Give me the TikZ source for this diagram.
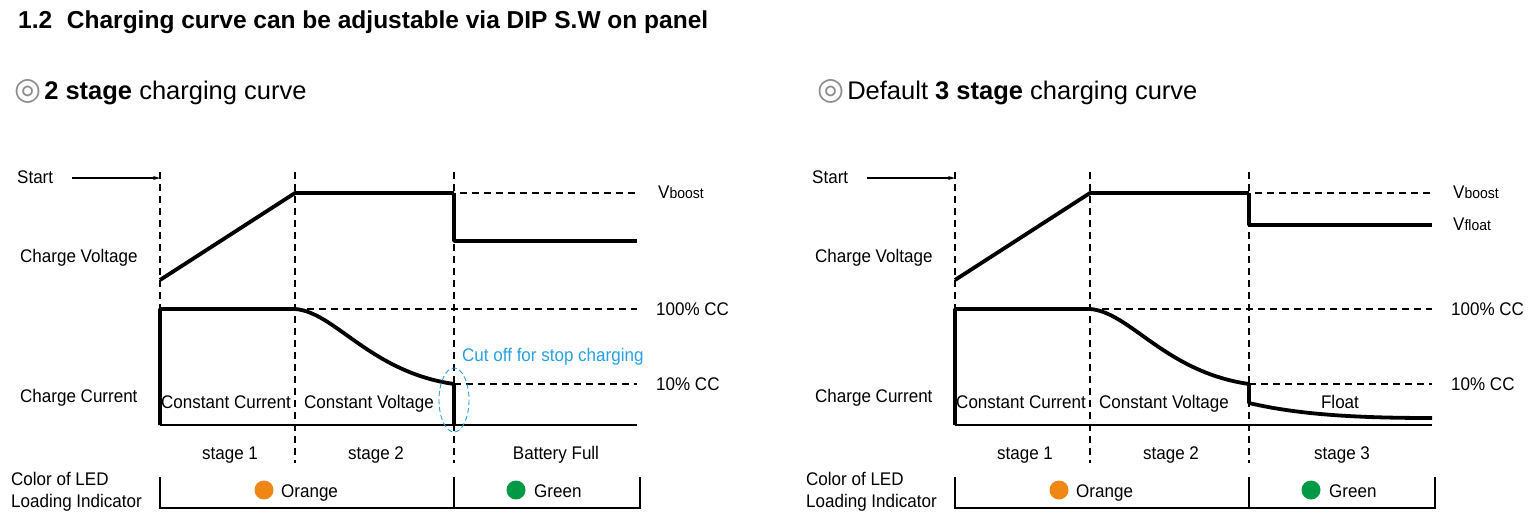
\documentclass[tikz,border=0pt]{standalone}
\usepackage{fontspec}
\setmainfont{Liberation Sans}
\newfontfamily\narrowfont{Liberation Sans}[FakeStretch=0.93]
\newfontfamily\symfont{DejaVu Sans}
\usetikzlibrary{arrows.meta}
\definecolor{ledorange}{RGB}{240,134,20}
\definecolor{ledgreen}{RGB}{0,153,68}
\definecolor{cutblue}{RGB}{40,160,225}
\tikzset{
  lbl/.style={font=\narrowfont\fontsize{18.3}{20}\selectfont, inner sep=0pt, anchor=base west},
  lblc/.style={lbl, anchor=base},
  heavy/.style={line width=3.8pt, line join=round},
  thinline/.style={line width=1.2pt},
  dashline/.style={line width=1.1pt, dash pattern=on 7pt off 5pt},
  leddot/.style={circle, inner sep=0pt, minimum size=19pt},
  subttl/.style={inner sep=0pt, anchor=base west, font=\fontsize{25.5}{28}\selectfont},
}
\newcommand{\chartcommon}[1]{%
  % labels on the left
  \node[lbl] (#1start) at (17,183) {Start};
  \coordinate (#1arrowA) at (72,178);
  \coordinate (#1arrowB) at (160,178);
  \draw[thinline, -{Stealth[length=7pt,width=4pt]}] (#1arrowA) -- (#1arrowB);
  \node[lbl] (#1cv) at (20,262) {Charge Voltage};
  \node[lbl] (#1cc) at (20,402) {Charge Current};
  % dashed verticals
  \draw[dashline] (160,172) -- (160,425);
  \draw[dashline] (295,172) -- (295,463);
  \draw[dashline] (454,172) -- (454,463);
  % axis
  \draw[thinline] (160,425) -- (637,425);
  % reference dashed lines
  \draw[dashline] (460,193) -- (637,193);
  \draw[dashline] (295,309) -- (637,309);
  \draw[dashline] (454,384) -- (637,384);
  \node[lbl] (#1vb) at (658,198) {V{\fontsize{15}{15}\selectfont boost}};
  \node[lbl] (#1hund) at (656,315) {100\% CC};
  \node[lbl] (#1ten) at (656,390) {10\% CC};
  % voltage start
  \draw[heavy] (160,280) -- (295,193) -- (454,193);
  % current start
  \draw[heavy] (160,425) -- (160,309) -- (295,309)
     .. controls (335,312) and (370,372) .. (454,384);
  \node[lblc] (#1ccur) at (226,408) {Constant Current};
  \node[lblc] (#1cvol) at (369,408) {Constant Voltage};
  \node[lblc] (#1s1) at (230,459) {stage 1};
  \node[lblc] (#1s2) at (376,459) {stage 2};
  % LED box
  \node[lbl] (#1led1) at (11,485) {Color of LED};
  \node[lbl] (#1led2) at (11,507) {Loading Indicator};
  \draw[thinline] (160,477) -- (160,508) -- (640,508) -- (640,477);
  \draw[thinline] (454,477) -- (454,508);
  \node[leddot, fill=ledorange] (#1od) at (264,490) {};
  \node[lbl] (#1ot) at (281,497) {Orange};
  \node[leddot, fill=ledgreen] (#1gd) at (516,490) {};
  \node[lbl] (#1gt) at (534,497) {Green};
}
\begin{document}
\begin{tikzpicture}[x=1pt, y=-1pt]
\useasboundingbox (0,0) rectangle (1529,515);
\node[inner sep=0pt, anchor=base west, font=\fontsize{24.5}{28}\selectfont\bfseries] (title) at (18,28)
  {1.2\hspace{0.6em}Charging curve can be adjustable via DIP S.W on panel};
\node[subttl] (sub1) at (14,99)
  {{\color{black!45}\symfont\fontsize{31}{31}\selectfont ◎}\hspace{0.12em}\textbf{2 stage} charging curve};
\node[subttl] (sub2) at (817,99)
  {{\color{black!45}\symfont\fontsize{31}{31}\selectfont ◎}\hspace{0.12em}Default \textbf{3 stage} charging curve};
% left chart
\begin{scope}
  \chartcommon{L}
  \draw[heavy] (454,193) -- (454,241) -- (637,241);
  \draw[heavy] (454,384) -- (454,425);
  \node[lbl, text=cutblue] (cut) at (462,361) {Cut off for stop charging};
  \draw[cutblue, line width=0.9pt, dash pattern=on 5pt off 3pt] (454,400) ellipse[x radius=15, y radius=32];
  \node[lblc] (full) at (556,459) {Battery Full};
\end{scope}
% right chart
\begin{scope}[xshift=795pt]
  \chartcommon{R}
  \draw[heavy] (454,193) -- (454,225) -- (637,225);
  \node[lbl] (vf) at (658,230) {V{\fontsize{15}{15}\selectfont float}};
  \draw[heavy] (454,384) -- (454,403) .. controls (505,415) and (565,418) .. (637,418);
  \node[lblc] (flt) at (545,408) {Float};
  \node[lblc] (s3) at (547,459) {stage 3};
\end{scope}
\end{tikzpicture}
\end{document}
